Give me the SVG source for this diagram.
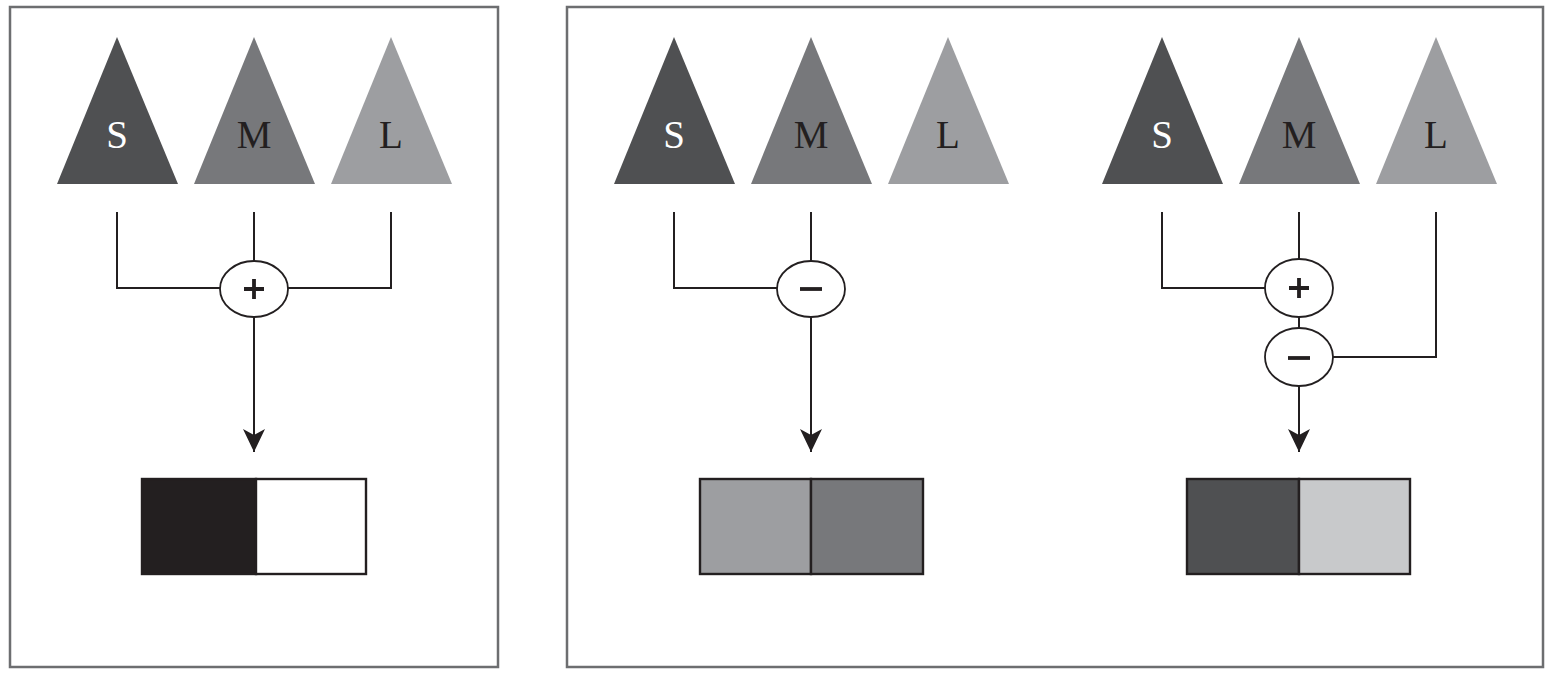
<svg xmlns="http://www.w3.org/2000/svg" width="1553" height="676" viewBox="0 0 1553 676">
<defs>
<style>
.frame{fill:none;stroke:#6d6e70;stroke-width:2.5}
.s{fill:#4f5052}.m{fill:#77787b}.l{fill:#9d9ea1}
.lbl{font-family:"Liberation Serif",serif;font-size:39px;text-anchor:middle}
.wire{fill:none;stroke:#231f20;stroke-width:2}
.op{fill:#fff;stroke:#231f20;stroke-width:1.8}
.sign{stroke:#231f20;stroke-width:3.8;fill:none}
.bar{stroke:#231f20;stroke-width:2.4}
</style>
<marker id="arr" viewBox="0 0 24 24" refX="23" refY="12" markerWidth="24" markerHeight="24" markerUnits="userSpaceOnUse" orient="auto">
<path d="M0,1 L23,12 L0,23 L6,12 Z" fill="#231f20"/>
</marker>
</defs>
<rect fill="#fff" width="1553" height="676"/>
<rect class="frame" x="10" y="7" width="488" height="660"/>
<rect class="frame" x="567" y="7" width="976" height="660"/>

<g id="panel1-S"><polygon class="s" points="57,184 117,37 178,184"/><text class="lbl" x="117" y="148" fill="#fff">S</text></g>
<g id="panel1-M"><polygon class="m" points="194,184 254,37 315,184"/><text class="lbl" x="254" y="148" fill="#231f20">M</text></g>
<g id="panel1-L"><polygon class="l" points="331,184 391,37 452,184"/><text class="lbl" x="391" y="148" fill="#231f20">L</text></g>

<g id="panel2-S"><polygon class="s" points="614,184 674,37 735,184"/><text class="lbl" x="674" y="148" fill="#fff">S</text></g>
<g id="panel2-M"><polygon class="m" points="751,184 811,37 872,184"/><text class="lbl" x="811" y="148" fill="#231f20">M</text></g>
<g id="panel2-L"><polygon class="l" points="888,184 948,37 1009,184"/><text class="lbl" x="948" y="148" fill="#231f20">L</text></g>

<g id="panel3-S"><polygon class="s" points="1102,184 1162,37 1223,184"/><text class="lbl" x="1162" y="148" fill="#fff">S</text></g>
<g id="panel3-M"><polygon class="m" points="1239,184 1299,37 1360,184"/><text class="lbl" x="1299" y="148" fill="#231f20">M</text></g>
<g id="panel3-L"><polygon class="l" points="1376,184 1436,37 1497,184"/><text class="lbl" x="1436" y="148" fill="#231f20">L</text></g>

<g id="connectors">
<polyline class="wire" points="117,212 117,288 221,288"/>
<line class="wire" x1="254" y1="212" x2="254" y2="261"/>
<polyline class="wire" points="391,212 391,288 288,288"/>
<line class="wire" x1="254" y1="317" x2="254" y2="452" marker-end="url(#arr)"/>

<polyline class="wire" points="674,212 674,288 778,288"/>
<line class="wire" x1="811" y1="212" x2="811" y2="261"/>
<line class="wire" x1="811" y1="317" x2="811" y2="452" marker-end="url(#arr)"/>

<polyline class="wire" points="1162,212 1162,288 1266,288"/>
<line class="wire" x1="1299" y1="212" x2="1299" y2="261"/>
<line class="wire" x1="1299" y1="317" x2="1299" y2="329"/>
<polyline class="wire" points="1436,212 1436,357 1333,357"/>
<line class="wire" x1="1299" y1="386" x2="1299" y2="452" marker-end="url(#arr)"/>
</g>

<g id="op-plus-1"><ellipse class="op" cx="254" cy="289" rx="34" ry="28"/><path class="sign" d="M244,289 H264 M254,279 V299"/></g>
<g id="op-minus-2"><ellipse class="op" cx="811" cy="289" rx="34" ry="28"/><path class="sign" d="M800,289 H822"/></g>
<g id="op-plus-3"><ellipse class="op" cx="1299" cy="288" rx="34" ry="29"/><path class="sign" d="M1289,288 H1309 M1299,278 V298"/></g>
<g id="op-minus-3"><ellipse class="op" cx="1299" cy="357" rx="34" ry="29"/><path class="sign" d="M1288,358 H1310"/></g>

<g id="result-1"><rect class="bar" x="142" y="479" width="114" height="95" fill="#231f20"/><rect class="bar" x="256" y="479" width="110" height="95" fill="#fff"/></g>
<g id="result-2"><rect class="bar" x="700" y="479" width="111" height="95" fill="#9d9ea1"/><rect class="bar" x="811" y="479" width="112" height="95" fill="#77787b"/></g>
<g id="result-3"><rect class="bar" x="1187" y="479" width="112" height="95" fill="#4f5052"/><rect class="bar" x="1299" y="479" width="111" height="95" fill="#c8c9cb"/></g>
</svg>
